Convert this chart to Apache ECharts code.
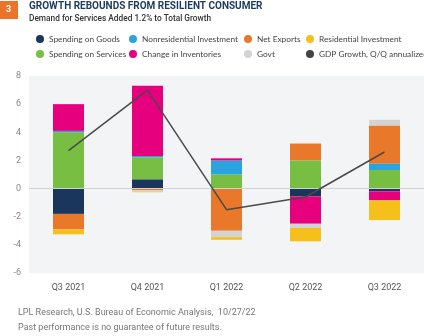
<!DOCTYPE html>
<html>
<head>
<meta charset="utf-8">
<script src="https://cdn.jsdelivr.net/npm/echarts@6/dist/echarts.min.js"></script>
<style>
    html, body { margin: 0; padding: 0; background: #fff; }
    #main { width: 424px; height: 336px; }
</style>
</head>
<body>
<div id="main"></div>
<script type="text/javascript">
    // 数据
    const quarters = ['Q3 2021', 'Q4 2021', 'Q1 2022', 'Q2 2022', 'Q3 2022'];
    const goods = [-1.8, 0.66, 0, -0.55, -0.2];
    const services = [4.0, 1.56, 1.0, 2.0, 1.32];
    const nonres = [0.1, 0.1, 1.0, 0, 0.47];
    const inventories = [1.9, 4.99, 0.15, -1.95, -0.64];
    const netExports = [-1.1, -0.1, -3.0, 1.2, 2.7];
    const govt = [0, -0.12, -0.45, -0.3, 0.4];
    const residential = [-0.35, -0.04, -0.19, -0.95, -1.4];
    const gdp = [2.7, 7.0, -1.5, -0.6, 2.6];
    const yTicks = [-6, -4, -2, 0, 2, 4, 6, 8];

    const font = 'Roboto, "Noto Sans", sans-serif';
    const narrow = 'Lato, Roboto, sans-serif';

    // 堆叠顺序 = 图例按列排列的顺序
    const barSeries = [
        {name: 'Spending on Goods', data: goods, color: '#1b365d'},
        {name: 'Spending on Services', data: services, color: '#78be43'},
        {name: 'Nonresidential Investment', data: nonres, color: '#2ba3dc'},
        {name: 'Change in Inventories', data: inventories, color: '#e6007e'},
        {name: 'Net Exports', data: netExports, color: '#e9782a'},
        {name: 'Govt', data: govt, color: '#d3d3d3'},
        {name: 'Residential Investment', data: residential, color: '#f6c01c'}
    ];

    // 图例位置（4列 x 2行）
    const legendCols = [36, 129, 244, 306];
    const legendRows = [35, 50];
    const legendOrder = [
        'Spending on Goods', 'Nonresidential Investment', 'Net Exports', 'Residential Investment',
        'Spending on Services', 'Change in Inventories', 'Govt', 'GDP Growth, Q/Q annualized'
    ];
    const legends = legendOrder.map(function (name, i) {
        return {
            data: [name],
            left: legendCols[i % 4],
            top: legendRows[Math.floor(i / 4)],
            icon: 'circle',
            itemWidth: 8,
            itemHeight: 8,
            itemGap: 0,
            padding: 0,
            textStyle: {fontSize: 8.3, color: '#444', fontFamily: narrow}
        };
    });

    let series = barSeries.map(function (s) {
        return {
            name: s.name,
            type: 'bar',
            stack: 'total',
            barWidth: 31,
            data: s.data,
            itemStyle: {color: s.color},
            emphasis: {disabled: true}
        };
    });
    series.push({
        name: 'GDP Growth, Q/Q annualized',
        type: 'line',
        data: gdp,
        symbol: 'none',
        itemStyle: {color: '#444'},
        lineStyle: {color: '#4a4a4a', width: 1.5},
        z: 5
    });

    let myChart = echarts.init(document.getElementById('main'), null, {renderer: 'canvas'});
    let option = {
        animation: false,
        backgroundColor: '#fff',
        textStyle: {fontFamily: font},
        title: [
            {
                text: 'GROWTH REBOUNDS FROM RESILIENT CONSUMER',
                left: 29, top: 1, padding: 0,
                textStyle: {fontSize: 10, fontWeight: 'bold', color: '#1d3a5f', fontFamily: font}
            },
            {
                text: 'Demand for Services Added 1.2% to Total Growth',
                left: 29, top: 15, padding: 0,
                textStyle: {fontSize: 8.3, fontWeight: 500, color: '#333', fontFamily: font}
            },
            {
                text: 'LPL Research, U.S. Bureau of Economic Analysis,  10/27/22',
                left: 18, top: 308, padding: 0,
                textStyle: {fontSize: 9, fontWeight: 'normal', color: '#777', fontFamily: font}
            },
            {
                text: 'Past performance is no guarantee of future results.',
                left: 18, top: 323, padding: 0,
                textStyle: {fontSize: 9, fontWeight: 'normal', color: '#777', fontFamily: font}
            }
        ],
        graphic: [
            {
                type: 'rect',
                left: 0, top: 1,
                shape: {width: 18, height: 18},
                style: {fill: '#ec7429'}
            },
            {
                type: 'text',
                left: 6, top: 5,
                style: {text: '3', fill: '#fff', fontSize: 9, fontWeight: 'bold', fontFamily: font}
            }
        ],
        legend: legends,
        grid: {
            left: 29,
            right: 0,
            top: 76,
            bottom: 63,
            show: true,
            backgroundColor: '#f3f4f6',
            borderWidth: 0
        },
        xAxis: {
            type: 'category',
            data: quarters,
            axisLine: {show: false},
            axisTick: {show: false},
            axisLabel: {fontSize: 9, color: '#555', margin: 10, fontFamily: font}
        },
        yAxis: {
            type: 'value',
            min: yTicks[0],
            max: yTicks[yTicks.length - 1],
            interval: 2,
            axisLine: {show: false},
            axisTick: {show: false},
            splitLine: {show: false},
            axisLabel: {fontSize: 9, color: '#888', margin: 8, fontFamily: font}
        },
        series: series.concat([{
            type: 'line',
            data: [],
            markLine: {
                silent: true,
                symbol: 'none',
                label: {show: false},
                lineStyle: {color: '#cfd2d6', width: 1, type: 'solid'},
                data: [{yAxis: 0}]
            }
        }])
    };
    myChart.setOption(option);
</script>
</body>
</html>
